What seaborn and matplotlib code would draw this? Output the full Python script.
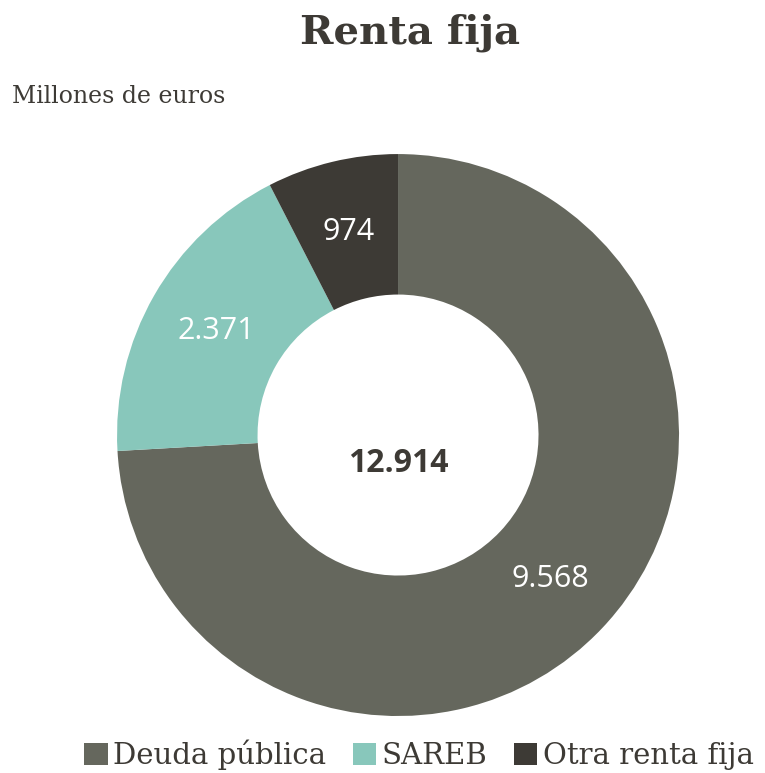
import matplotlib.pyplot as plt
import seaborn as sns
import numpy as np
from matplotlib.patches import Patch

categorias = ["Deuda pública", "SAREB", "Otra renta fija"]
valores = [9568, 2371, 974]
etiquetas = ["9.568", "2.371", "974"]
total_txt = "12.914"
colores = ["#65675d", "#88c7bb", "#3d3a35"]
texto_col = "#3d3a35"

sns.set_theme(style="white")
plt.rcParams['font.family'] = ['DejaVu Serif']

fig = plt.figure(figsize=(7.65, 7.73), dpi=100)
ax = fig.add_axes([0.153, 0.0737, 0.7346, 0.727])

wedges, _ = ax.pie(valores, colors=colores, startangle=90, counterclock=False,
                   radius=1, wedgeprops=dict(width=0.5, linewidth=0))

# etiquetas dentro de cada sector
for w, lab in zip(wedges, etiquetas):
    mid = np.deg2rad((w.theta1 + w.theta2) / 2)
    ax.text(0.745 * np.cos(mid), 0.745 * np.sin(mid), lab, ha='center', va='center',
            color='white', fontsize=22, family=['Open Sans', 'DejaVu Sans'])

ax.text(0, -0.1, total_txt, ha='center', va='center', fontsize=23, fontweight='bold',
        color=texto_col, family=['Open Sans', 'DejaVu Sans'])
ax.set_xlim(-1, 1)
ax.set_ylim(-1, 1)
ax.set_aspect('equal')
ax.axis('off')

fig.text(0.536, 0.958, "Renta fija", ha='center', va='center', fontsize=29,
         fontweight='bold', color=texto_col)
fig.text(0.016, 0.875, "Millones de euros", ha='left', va='center', fontsize=17,
         color=texto_col)

handles = [Patch(facecolor=c, edgecolor='none') for c in colores]
leg = fig.legend(handles, categorias, loc='center', bbox_to_anchor=(0.548, 0.023), ncol=3,
                 frameon=False, fontsize=21, handlelength=0.8, handleheight=0.8,
                 handletextpad=0.2, columnspacing=0.9, borderaxespad=0)
for t in leg.get_texts():
    t.set_color(texto_col)

fig.savefig("out.png", dpi=100, facecolor='white')
